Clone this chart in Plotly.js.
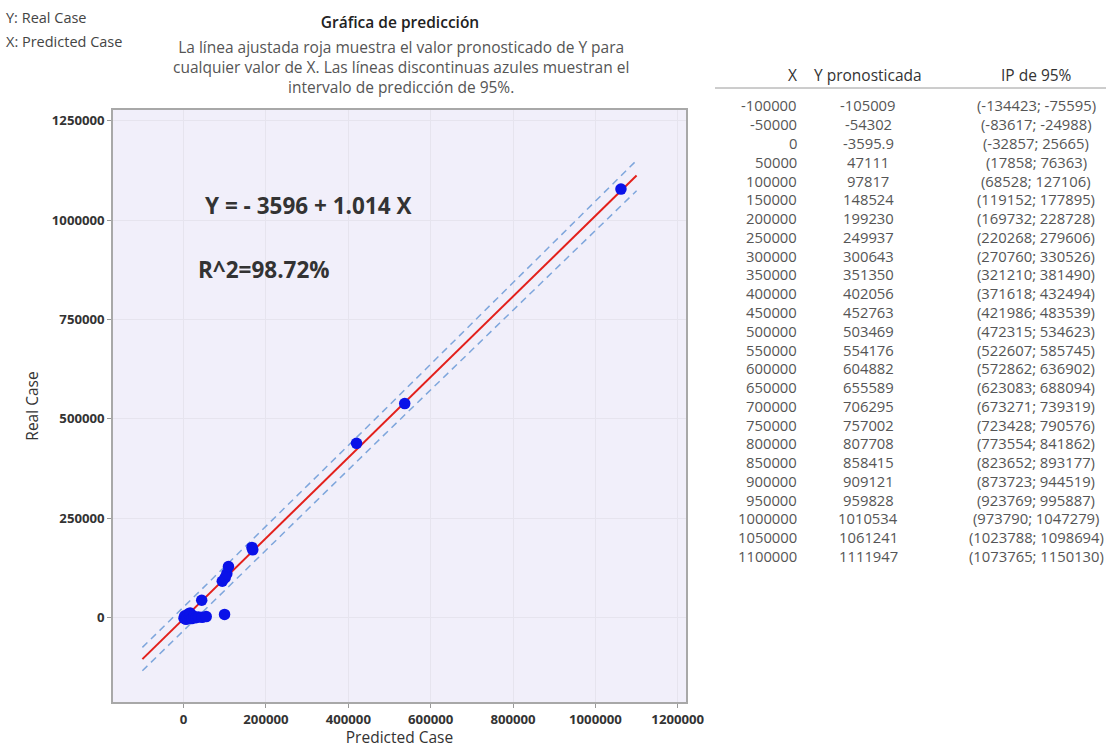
<!DOCTYPE html>
<html>
<head>
<meta charset="utf-8">
<script src="https://cdn.plot.ly/plotly-3.0.1.min.js"></script>
<style>
  html, body { margin: 0; padding: 0; background: #ffffff; }
  #chart { width: 1106px; height: 748px; }
</style>
</head>
<body>
<div id="chart"></div>
<script>
// Observed cases: predicted value (X) against real value (Y)
const predictedCase = [1000, 3000, 6000, 9000, 12000, 16000, 20000, 25000, 30000, 36000, 45000, 55000,
                       44000, 99500, 94000, 101000, 105000, 109000, 166000, 168000,
                       420000, 537000, 1062000];
const realCase      = [-2000, 4000, -5000, 2000, 9000, 11000, -3000, 3000, -1000, 1000, 0, 2000,
                       43000, 7500, 91000, 100000, 110000, 128000, 176000, 170000,
                       438000, 538000, 1078000];

// Fitted values and 95% prediction interval
const tableX  = [-100000, -50000, 0, 50000, 100000, 150000, 200000, 250000, 300000, 350000, 400000,
                 450000, 500000, 550000, 600000, 650000, 700000, 750000, 800000, 850000, 900000,
                 950000, 1000000, 1050000, 1100000];
const yPred   = [-105009, -54302, -3595.9, 47111, 97817, 148524, 199230, 249937, 300643, 351350, 402056,
                 452763, 503469, 554176, 604882, 655589, 706295, 757002, 807708, 858415, 909121,
                 959828, 1010534, 1061241, 1111947];
const piLow   = [-134423, -83617, -32857, 17858, 68528, 119152, 169732, 220268, 270760, 321210, 371618,
                 421986, 472315, 522607, 572862, 623083, 673271, 723428, 773554, 823652, 873723,
                 923769, 973790, 1023788, 1073765];
const piHigh  = [-75595, -24988, 25665, 76363, 127106, 177895, 228728, 279606, 330526, 381490, 432494,
                 483539, 534623, 585745, 636902, 688094, 739319, 790576, 841862, 893177, 944519,
                 995887, 1047279, 1098694, 1150130];

// Axis ticks
const xTicks = [0, 200000, 400000, 600000, 800000, 1000000, 1200000];
const yTicks = [0, 250000, 500000, 750000, 1000000, 1250000];

const tableHeader = ['X', 'Y pronosticada', 'IP de 95%'];
const equationText = 'Y = - 3596 + 1.014 X';
const rSquaredText = 'R^2=98.72%';

// Page geometry (pixels)
const W = 1106, H = 748;
const M = { l: 113, r: 0, t: 10, b: 46 };
const plotW = W - M.l - M.r, plotH = H - M.t - M.b;
const px = v => (v - M.l) / plotW;          // pixel x -> paper x
const py = v => (H - M.b - v) / plotH;      // pixel y -> paper y

const FONT = 'Open Sans, Noto Sans, sans-serif';
const GREY = '#555555';

const traces = [
  {
    x: tableX, y: piLow, type: 'scatter', mode: 'lines',
    line: { color: '#7EA6DC', width: 1.5, dash: '7px,5px' }, hoverinfo: 'skip'
  },
  {
    x: tableX, y: piHigh, type: 'scatter', mode: 'lines',
    line: { color: '#7EA6DC', width: 1.5, dash: '7px,5px' }, hoverinfo: 'skip'
  },
  {
    x: tableX, y: yPred, type: 'scatter', mode: 'lines',
    line: { color: '#E3201B', width: 2 }
  },
  {
    x: predictedCase, y: realCase, type: 'scatter', mode: 'markers',
    marker: { color: '#0A12E8', size: 11.5 }
  }
];

const annotations = [
  { text: 'Y: Real Case', xref: 'paper', yref: 'paper', x: px(4), y: py(17),
    xanchor: 'left', yanchor: 'middle', showarrow: false, font: { family: FONT, size: 14.5, color: '#444' } },
  { text: 'X: Predicted Case', xref: 'paper', yref: 'paper', x: px(4), y: py(41),
    xanchor: 'left', yanchor: 'middle', showarrow: false, font: { family: FONT, size: 14.5, color: '#444' } },
  { text: 'La línea ajustada roja muestra el valor pronosticado de Y para<br>' +
          'cualquier valor de X. Las líneas discontinuas azules muestran el<br>' +
          'intervalo de predicción de 95%.',
    xref: 'paper', yref: 'paper', x: px(401), y: py(33.5), xanchor: 'center', yanchor: 'top',
    align: 'center', showarrow: false, font: { family: FONT, size: 15.5, color: GREY } },
  { text: '<b>' + equationText + '</b>', xref: 'x', yref: 'y', x: 48000, y: 1036000,
    xanchor: 'left', yanchor: 'middle', showarrow: false, font: { family: FONT, size: 22.5, color: '#333' } },
  { text: '<b>' + rSquaredText + '</b>', xref: 'x', yref: 'y', x: 31000, y: 876000,
    xanchor: 'left', yanchor: 'middle', showarrow: false, font: { family: FONT, size: 22.5, color: '#333' } }
];

// Prediction table on the right
const colX = [799, 868, 1036];
const colAnchor = ['right', 'center', 'center'];
const headerY = 75, rowTop = 105.5, rowGap = 18.77;
tableHeader.forEach((h, c) => {
  annotations.push({ text: h, xref: 'paper', yref: 'paper', x: px(colX[c]), y: py(headerY),
    xanchor: colAnchor[c], yanchor: 'middle', showarrow: false,
    font: { family: FONT, size: 15.5, color: '#333' } });
});
tableX.forEach((xv, i) => {
  const cells = [String(xv), String(yPred[i]), '(' + piLow[i] + '; ' + piHigh[i] + ')'];
  cells.forEach((t, c) => {
    annotations.push({ text: t, xref: 'paper', yref: 'paper', x: px(colX[c]), y: py(rowTop + i * rowGap),
      xanchor: colAnchor[c], yanchor: 'middle', showarrow: false,
      font: { family: FONT, size: 14.8, color: GREY } });
  });
});

const layout = {
  width: W, height: H,
  margin: M,
  paper_bgcolor: '#ffffff',
  plot_bgcolor: '#F1EFFA',
  showlegend: false,
  font: { family: FONT, color: '#333' },
  title: {
    text: 'Gráfica de predicción',
    x: px(400), xref: 'paper', xanchor: 'center',
    y: 1 - 23 / H, yanchor: 'middle',
    font: { family: FONT, size: 15.5, color: '#222', weight: 600 }
  },
  xaxis: {
    domain: [0, (686 - M.l) / plotW],
    range: [-171400, 1220000],
    tickvals: xTicks, tickformat: 'd',
    ticks: 'outside', ticklen: 4, tickcolor: '#999',
    tickfont: { family: FONT, size: 13.2, color: '#333', weight: 'bold' },
    showgrid: true, gridcolor: '#E6E4EE', gridwidth: 1,
    zeroline: false,
    showline: true, mirror: true, linecolor: '#A8A8A8', linewidth: 1.5,
    title: { text: 'Predicted Case', standoff: 6, font: { family: FONT, size: 15.5, color: '#333' } }
  },
  yaxis: {
    domain: [0, py(110)],
    range: [-213000, 1277000],
    tickvals: yTicks, tickformat: 'd',
    ticks: 'outside', ticklen: 4, tickcolor: '#999',
    tickfont: { family: FONT, size: 13.2, color: '#333', weight: 'bold' },
    showgrid: true, gridcolor: '#E6E4EE', gridwidth: 1,
    zeroline: false,
    showline: true, mirror: true, linecolor: '#A8A8A8', linewidth: 1.5,
    title: { text: 'Real Case', standoff: 9, font: { family: FONT, size: 15.5, color: '#333' } }
  },
  shapes: [
    { type: 'line', xref: 'paper', yref: 'paper', x0: px(715), x1: px(1106), y0: py(88), y1: py(88),
      line: { color: '#9A9A9A', width: 1 } }
  ],
  annotations: annotations
};

Plotly.newPlot('chart', traces, layout, { displayModeBar: false, responsive: false });
</script>
</body>
</html>
